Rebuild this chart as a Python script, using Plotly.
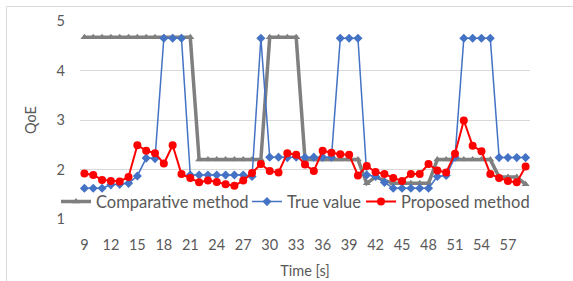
import plotly.graph_objects as go

time_s = list(range(9, 60))

comparative = [4.67]*13 + [2.2]*8 + [4.67]*4 + [2.2]*7 + [1.72, 1.85, 1.78, 1.72, 1.72, 1.72, 1.72, 1.72] + [2.2]*7 + [1.85, 1.85, 1.85, 1.7]

true_value = [1.62, 1.62, 1.62, 1.69, 1.70, 1.72, 1.87, 2.23, 2.22,
              4.65, 4.65, 4.65,
              1.89, 1.89, 1.89, 1.89, 1.89, 1.89, 1.89, 1.86,
              4.65,
              2.25, 2.25, 2.24, 2.25, 2.24, 2.25, 2.25, 2.25,
              4.65, 4.65, 4.65,
              1.89, 1.86, 1.74, 1.62, 1.62, 1.62, 1.62, 1.62, 1.86, 1.88, 2.25,
              4.65, 4.65, 4.65, 4.65,
              2.24, 2.24, 2.24, 2.24]

proposed = [1.92, 1.89, 1.79, 1.77, 1.76, 1.85, 2.49, 2.38, 2.33, 2.12, 2.49, 1.91, 1.83,
            1.74, 1.78, 1.75, 1.70, 1.67, 1.78, 1.93, 2.11, 1.97, 1.94, 2.33, 2.30, 2.10, 1.97,
            2.38, 2.34, 2.31, 2.30, 1.88, 2.07, 1.95, 1.91, 1.83, 1.77, 1.91, 1.91, 2.11, 1.98,
            1.94, 2.32, 2.99, 2.48, 2.37, 1.91, 1.83, 1.77, 1.74, 2.06]

tick_labels = [str(t) for t in range(9, 58, 3)]

x = [str(t) for t in time_s]

L, R, T, B = 80, 43, 21, 62
W, H = 573, 281
PW, PH = W - L - R, H - T - B

fig = go.Figure()
fig.add_trace(go.Scatter(x=x, y=comparative, name="Comparative method", mode="lines+markers",
                         line=dict(color="#7f7f7f", width=3.5),
                         marker=dict(symbol="triangle-up", size=7, color="#7f7f7f"),
                         legendwidth=146))
fig.add_trace(go.Scatter(x=x, y=true_value, name="True value", mode="lines+markers",
                         line=dict(color="#4472c4", width=1.5),
                         marker=dict(symbol="diamond", size=7, color="#4472c4"),
                         legendwidth=69))
fig.add_trace(go.Scatter(x=x, y=proposed, name="Proposed method", mode="lines+markers",
                         line=dict(color="#ff0000", width=2),
                         marker=dict(symbol="circle", size=8, color="#ff0000"),
                         legendwidth=128))

fig.update_layout(
    width=W, height=H,
    margin=dict(l=L, r=R, t=T, b=B, autoexpand=False),
    paper_bgcolor="white", plot_bgcolor="white",
    font=dict(family="Lato, Carlito, Calibri, sans-serif", color="#595959", size=14),
    showlegend=True,
    legend=dict(orientation="h", x=(56 - L) / PW, y=-0.002, xanchor="left", yanchor="bottom",
                font=dict(size=16.5, color="#595959"), bgcolor="rgba(0,0,0,0)",
                itemwidth=30, tracegroupgap=0, borderwidth=0),
    xaxis=dict(type="category", tickmode="array", tickvals=tick_labels, ticktext=tick_labels,
               showgrid=False, showline=False, zeroline=False, ticks="",
               ticklabelstandoff=15,
               title=dict(text="Time [s]", font=dict(size=14.5, color="#595959"), standoff=14),
               tickfont=dict(size=14.5), range=[-0.5, len(x) - 0.5]),
    yaxis=dict(range=[1, 5], dtick=1, showgrid=True, gridcolor="#d9d9d9", gridwidth=1,
               zeroline=False, showline=False, ticks="",
               ticklabelstandoff=14,
               title=dict(text="QoE", font=dict(size=14.5, color="#595959"), standoff=16),
               tickfont=dict(size=14.5)),
    shapes=[
        dict(type="line", xref="paper", yref="paper", x0=(6.5 - L) / PW, x1=(6.5 - L) / PW,
             y0=(H - B - 6.5) / PH, y1=(H - B - 281) / PH, line=dict(color="#d9d9d9", width=1)),
        dict(type="line", xref="paper", yref="paper", x0=(6.5 - L) / PW, x1=(573 - L) / PW,
             y0=(H - B - 6.5) / PH, y1=(H - B - 6.5) / PH, line=dict(color="#d9d9d9", width=1)),
    ],
)

fig.write_html("out.html", config={"displayModeBar": False},
               post_script="document.body.style.margin='0px';")
